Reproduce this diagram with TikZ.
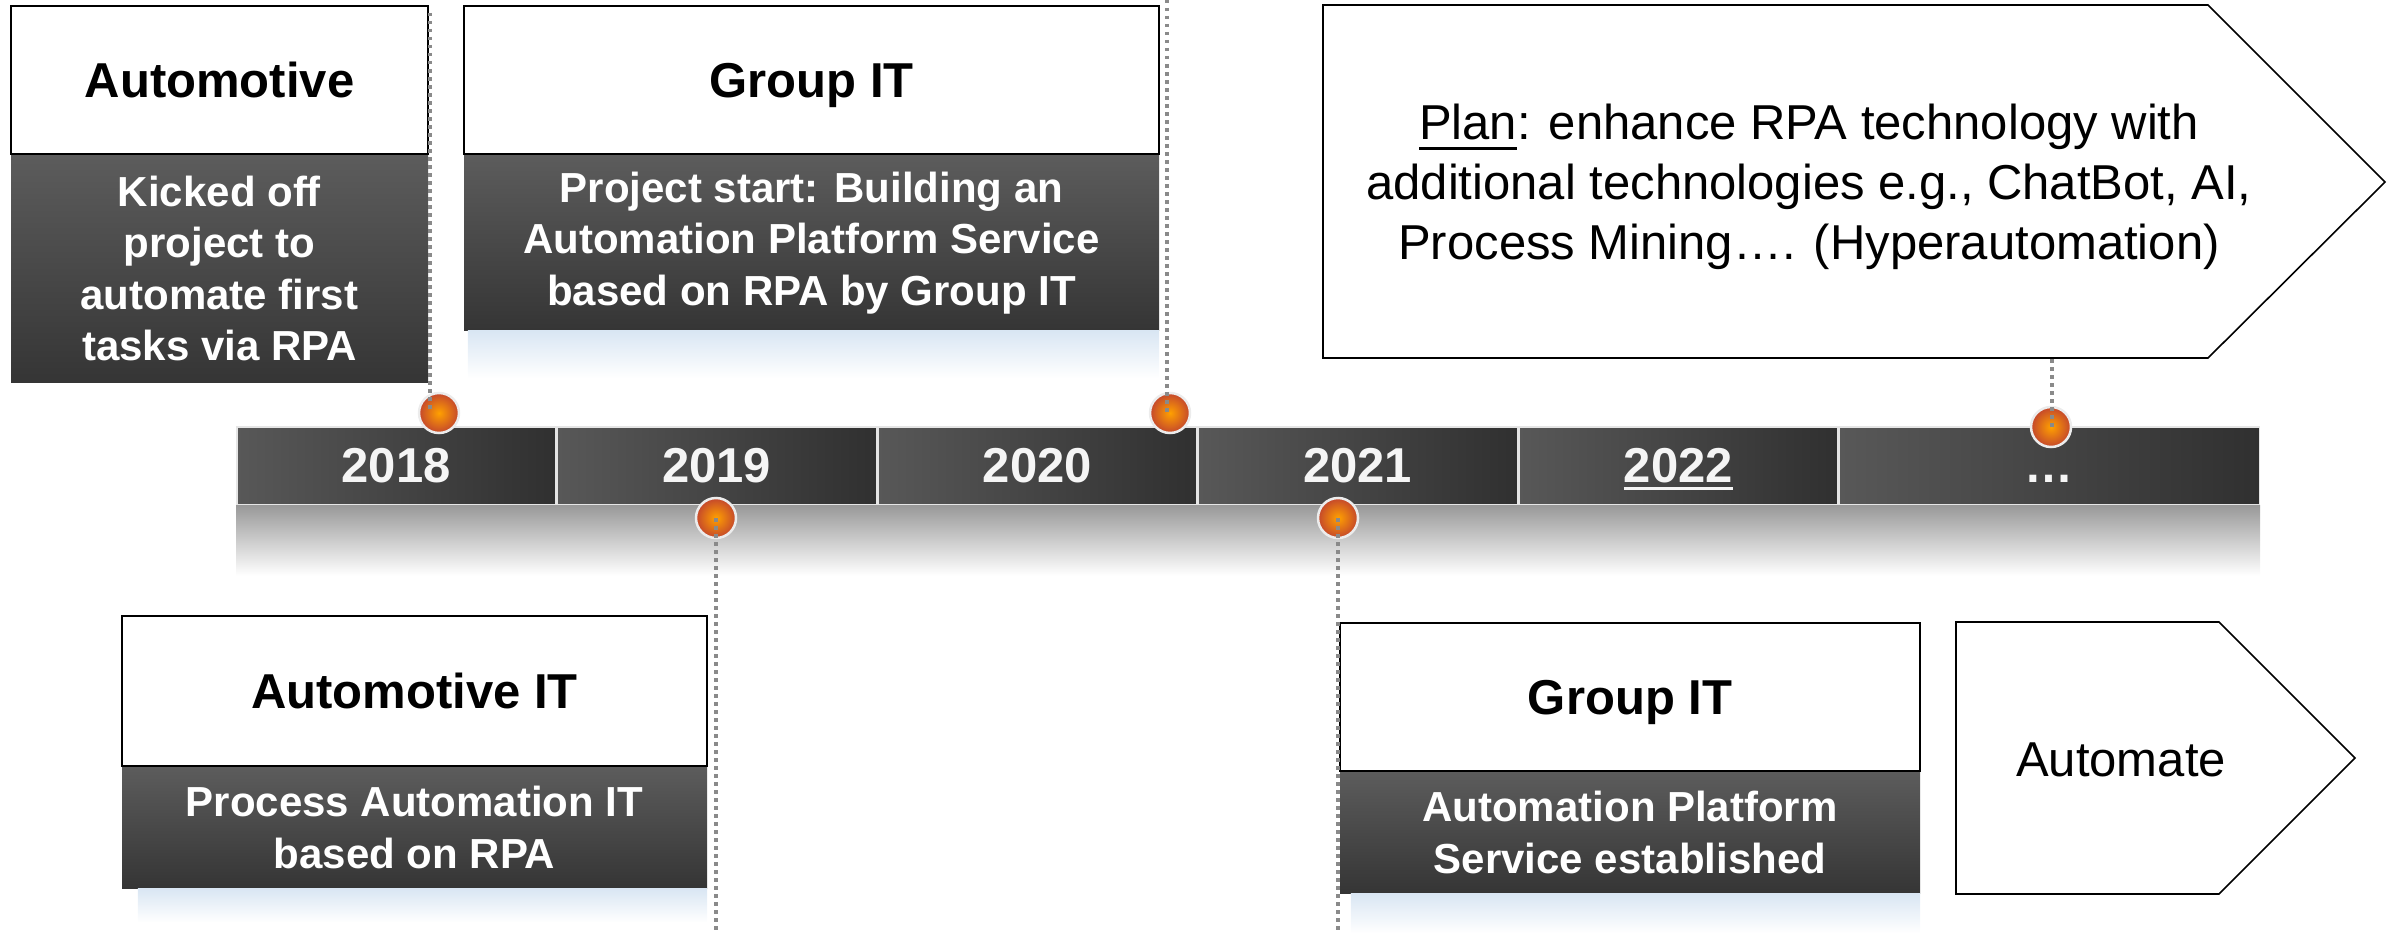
\documentclass[tikz,border=0pt]{standalone}
\usepackage{fontspec}
\setmainfont{Liberation Sans}
\usetikzlibrary{positioning}

\definecolor{boxtop}{HTML}{5C5C5C}
\definecolor{boxbot}{HTML}{353535}
\definecolor{cellleft}{HTML}{585858}
\definecolor{cellright}{HTML}{303030}
\definecolor{leadgray}{HTML}{8A8A8A}
\definecolor{dotin}{HTML}{FFA000}
\definecolor{dotout}{HTML}{C4472C}
\definecolor{mirror}{HTML}{D9E6F3}

\newcommand{\ulbar}[2]{\setbox0\hbox{#2}\rlap{\smash{\rule[-#1]{\wd0}{3pt}}}\box0}

\begin{document}
\begin{tikzpicture}[x=1pt,y=-1pt,
  head/.style={draw=black,line width=2pt,fill=white,inner sep=0pt,text depth=0pt,
    font=\fontsize{49}{56}\selectfont\bfseries},
  body/.style={top color=boxtop,bottom color=boxbot,inner sep=0pt,text=white,align=center,
    font=\fontsize{42}{51.5}\selectfont\bfseries},
  glow/.style={top color=mirror,bottom color=white},
  cell/.style={left color=cellleft,right color=cellright,draw=gray!20,line width=1.5pt,
    minimum height=78pt,minimum width=319pt,inner sep=0pt,text depth=0pt,
    text=white!96!black,font=\fontsize{49}{56}\selectfont\bfseries},
  stud/.style={circle,minimum size=40pt,inner sep=0pt,draw=gray!15,line width=2.5pt,
    inner color=dotin,outer color=dotout},
  leader/.style={draw=leadgray,line width=3.5pt,dash pattern=on 3.5pt off 4.5pt},
  flag/.style={draw=black,line width=1.6pt,fill=white},
  note/.style={align=center,font=\fontsize{49}{60}\selectfont}]

  \useasboundingbox (0,0) rectangle (2392,934);

  % time bar
  \node[cell,anchor=north west] (y18) at (236,426) {2018};
  \node[cell] (y19) [right=0pt of y18] {2019};
  \node[cell] (y20) [right=0pt of y19] {2020};
  \node[cell] (y21) [right=0pt of y20] {2021};
  \node[cell] (y22) [right=0pt of y21] {\ulbar{7pt}{2022}};
  \node[cell,minimum width=420pt] (ynext) [right=0pt of y22] {\vphantom{2}…};
  \fill[top color=gray!80,bottom color=white] (y18.south west) rectangle ([yshift=-70pt]ynext.south east);

  % events above the bar
  \node[head,anchor=north west,minimum width=417pt,minimum height=148pt] (autom) at (10,5) {Automotive};
  \node[body,minimum width=417pt,minimum height=227pt] (automtxt) [below=0pt of autom]
    {Kicked off\\project to\\automate first\\tasks via RPA};

  \node[head,anchor=north west,minimum width=695pt,minimum height=148pt] (git1) at (463,5) {Group IT};
  \node[body,minimum width=695pt,minimum height=175pt] (git1txt) [below=0pt of git1]
    {Project start: Building an\\Automation Platform Service\\based on RPA by Group IT};
  \fill[glow] ([xshift=4pt]git1txt.south west) rectangle ([yshift=-48pt]git1txt.south east);

  \draw[flag] (1323,5) -- (2208,5) -- (2385,182) -- (2208,358) -- (1323,358) -- cycle;
  \node[note] (plan) at (1809,187)
    {\ulbar{10pt}{Plan}: enhance RPA technology with\\additional technologies e.g., ChatBot, AI,\\Process Mining…. (Hyperautomation)};

  % events below the bar
  \node[head,anchor=north west,minimum width=585pt,minimum height=150pt] (autoit) at (121,615) {Automotive IT};
  \node[body,minimum width=585pt,minimum height=121pt] (autoittxt) [below=0pt of autoit]
    {Process Automation IT\\based on RPA};
  \fill[glow] ([xshift=16pt]autoittxt.south west) rectangle ([yshift=-34pt]autoittxt.south east);

  \node[head,anchor=north west,minimum width=580pt,minimum height=148pt] (git2) at (1339,622) {Group IT};
  \node[body,minimum width=580pt,minimum height=121pt] (git2txt) [below=0pt of git2]
    {Automation Platform\\Service established};
  \fill[glow] ([xshift=11pt]git2txt.south west) rectangle ([yshift=-40pt]git2txt.south east);

  \draw[flag] (1956,622) -- (2219,622) -- (2355,758) -- (2219,894) -- (1956,894) -- cycle;
  \node[note] (automate) at (2121,760) {Automate};

  % milestones
  \node[stud] (b18) at (439,413) {};
  \node[stud] (b20) at (1170,413) {};
  \node[stud] (bnext) at (2051,427) {};
  \node[stud] (b19) at (716,518) {};
  \node[stud] (b21) at (1338,518) {};

  \coordinate (l18) at (430,13);
  \coordinate (l20) at (1167,0);
  \coordinate (lnext) at (2052,359);
  \coordinate (l19) at (716,934);
  \coordinate (l21) at (1338,934);
  \draw[leader] (l18) -- (l18 |- b18.center);
  \draw[leader] (l20) -- (l20 |- b20.center);
  \draw[leader] (lnext) -- (lnext |- bnext.center);
  \draw[leader] (b19.center) -- (l19);
  \draw[leader] (b21.center) -- (l21);

\end{tikzpicture}
\end{document}
